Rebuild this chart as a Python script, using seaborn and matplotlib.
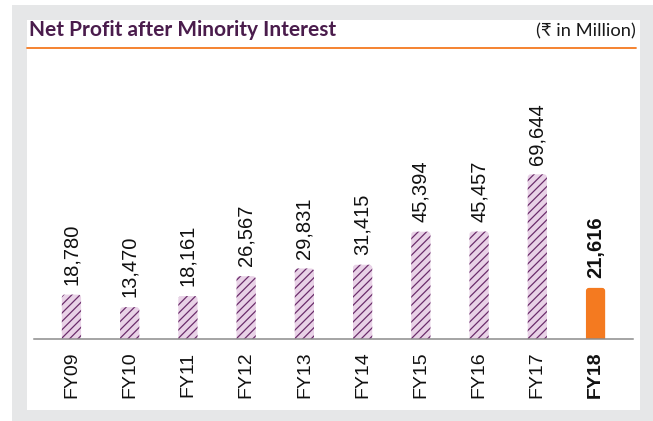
import matplotlib
matplotlib.use('Agg')
import matplotlib.pyplot as plt
import seaborn as sns
import pandas as pd
from matplotlib.patches import FancyBboxPatch, Rectangle
from matplotlib.lines import Line2D

years = ['FY09', 'FY10', 'FY11', 'FY12', 'FY13', 'FY14', 'FY15', 'FY16', 'FY17', 'FY18']
profit = [18780, 13470, 18161, 26567, 29831, 31415, 45394, 45457, 69644, 21616]
labels = ['18,780', '13,470', '18,161', '26,567', '29,831', '31,415', '45,394', '45,457', '69,644', '21,616']
highlight = 'FY18'
title = 'Net Profit after Minority Interest'
unit = '(₹ in Million)'

sns.set_style('white')
plt.rcParams['font.family'] = ['Liberation Sans', 'DejaVu Sans']
plt.rcParams['patch.force_edgecolor'] = False
plt.rcParams['hatch.color'] = '#6b2d6b'
plt.rcParams['hatch.linewidth'] = 0.9

W, H = 653, 421
fig = plt.figure(figsize=(W / 100, H / 100), dpi=100)
fig.patch.set_facecolor('white')
fig.patches.append(Rectangle((12 / W, 0), 1 - 12 / W, 1 - 5 / H, transform=fig.transFigure,
                             facecolor='#e6e7e8', edgecolor='none', zorder=-2))
fig.patches.append(Rectangle((27 / W, 11 / H), (640 - 27) / W, 390 / H, transform=fig.transFigure,
                             facecolor='white', edgecolor='none', zorder=-1))

ax = fig.add_axes([34 / W, 82 / H, 599 / W, 279 / H])
ax.set_facecolor('none')

df = pd.DataFrame({'year': years, 'profit': profit})
colors = ['#f47a20' if y == highlight else '#e9d2e7' for y in years]
sns.barplot(data=df, x='year', y='profit', hue='year', palette=colors, legend=False,
            width=0.33, saturation=1, ax=ax)

ax.set_xlim(-0.643, len(years) - 1 + 0.643)
ax.set_ylim(0, 118000)

# pixel scales for rounded tops
p0 = ax.transData.transform((0, 0))
p1 = ax.transData.transform((1, 1000))
xpx = p1[0] - p0[0]
ypx = (p1[1] - p0[1]) / 1000
rad = 3.0
r_x = rad / xpx
r_y = rad / ypx
aspect = r_y / r_x

bars = list(ax.patches)
for yr, p in zip(years, bars):
    x, w, h = p.get_x(), p.get_width(), p.get_height()
    fc = p.get_facecolor()
    p.remove()
    is_hl = yr == highlight
    fb = FancyBboxPatch((x, -r_y), w, h + r_y,
                        boxstyle=f"round,pad=0,rounding_size={r_x}",
                        mutation_aspect=aspect, facecolor=fc,
                        edgecolor=fc if is_hl else '#6b2d6b', linewidth=0,
                        hatch=None if is_hl else '////', zorder=2)
    ax.add_patch(fb)

for i, (yr, v, lab) in enumerate(zip(years, profit, labels)):
    ax.annotate(lab, (i, v), xytext=(0, 7), textcoords='offset points',
                rotation=90, ha='center', va='bottom', fontsize=14.5,
                fontweight='bold' if yr == highlight else 'normal', color='#111111')

ax.set_xticks(range(len(years)))
ax.set_xticklabels(years, rotation=90, fontsize=14, color='#111111')
for t in ax.get_xticklabels():
    if t.get_text() == highlight:
        t.set_fontweight('bold')
ax.tick_params(axis='x', length=0, pad=9)
ax.set_yticks([])
ax.set_xlabel('')
ax.set_ylabel('')
for s in ['top', 'left', 'right']:
    ax.spines[s].set_visible(False)
ax.spines['bottom'].set_color('#8c8c8c')
ax.spines['bottom'].set_linewidth(1.1)
ax.spines['bottom'].set_zorder(3)

fig.text(29 / W, 1 - 36 / H, title, family=['Lato', 'DejaVu Sans'], weight='bold',
         size=15, color='#4a1c4c', va='baseline')
fig.text(636 / W, 1 - 36 / H, unit, family=['Lato', 'DejaVu Sans'], size=13.2,
         color='#1a1a1a', ha='right', va='baseline')
fig.add_artist(Line2D([27 / W, 636 / W], [1 - 48 / H] * 2, color='#f47a20', lw=1.3,
                      transform=fig.transFigure))

fig.savefig('out.png', dpi=100)
